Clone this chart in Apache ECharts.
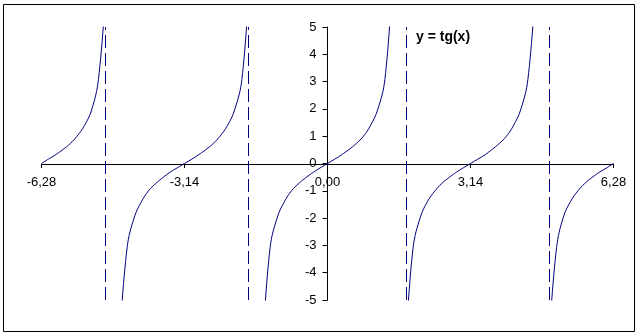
<!DOCTYPE html>
<html>
<head>
<meta charset="utf-8">
<script src="https://cdn.jsdelivr.net/npm/echarts@6/dist/echarts.min.js"></script>
<style>
html,body{margin:0;padding:0;background:#fff;}
#chart{width:639px;height:334px;}
</style>
</head>
<body>
<div id="chart"></div>
<script>
// x values (radians), step ~ pi/20, from -6.28 to 6.28
var xValues = [
  -6.28, -6.13, -5.97, -5.81, -5.65, -5.50, -5.34, -5.18, -5.03, -4.87,
  -4.71, -4.56, -4.40, -4.24, -4.08, -3.93, -3.77, -3.61, -3.46, -3.30,
  -3.14, -2.98, -2.83, -2.67, -2.51, -2.36, -2.20, -2.04, -1.88, -1.73,
  -1.57, -1.41, -1.26, -1.10, -0.94, -0.79, -0.63, -0.47, -0.31, -0.16,
   0.00,  0.16,  0.31,  0.47,  0.63,  0.79,  0.94,  1.10,  1.26,  1.41,
   1.57,  1.73,  1.88,  2.04,  2.20,  2.36,  2.51,  2.67,  2.83,  2.98,
   3.14,  3.30,  3.46,  3.61,  3.77,  3.93,  4.08,  4.24,  4.40,  4.56,
   4.71,  4.87,  5.03,  5.18,  5.34,  5.50,  5.65,  5.81,  5.97,  6.13,
   6.28
];
// y = tg(x) values (null = break at asymptote)
var yValues = [
   0.00,  0.16,  0.32,  0.51,  0.73,  1.00,  1.38,  1.96,  3.08,  6.31,
   null, -6.31, -3.08, -1.96, -1.38, -1.00, -0.73, -0.51, -0.32, -0.16,
   0.00,  0.16,  0.32,  0.51,  0.73,  1.00,  1.38,  1.96,  3.08,  6.31,
   null, -6.31, -3.08, -1.96, -1.38, -1.00, -0.73, -0.51, -0.32, -0.16,
   0.00,  0.16,  0.32,  0.51,  0.73,  1.00,  1.38,  1.96,  3.08,  6.31,
   null, -6.31, -3.08, -1.96, -1.38, -1.00, -0.73, -0.51, -0.32, -0.16,
   0.00,  0.16,  0.32,  0.51,  0.73,  1.00,  1.38,  1.96,  3.08,  6.31,
   null, -6.31, -3.08, -1.96, -1.38, -1.00, -0.73, -0.51, -0.32, -0.16,
   0.00
];
// dashed vertical asymptote markers (as drawn in the picture)
var asymptoteX = [-4.87, -1.73, 1.73, 4.87];
// axis ticks
var xTickValues = [-6.28, -3.14, 0.00, 3.14, 6.28];
var yTickValues = [-5, -4, -3, -2, -1, 0, 1, 2, 3, 4, 5];
var titleText = 'y = tg(x)';

var chart = echarts.init(document.getElementById('chart'), null, {renderer: 'canvas'});
var curve = xValues.map(function (x, i) { return [x, yValues[i]]; });
var font = '"Liberation Sans", Arial, sans-serif';

chart.setOption({
  animation: false,
  backgroundColor: '#ffffff',
  grid: {left: 41.5, right: 25.5, top: 27, bottom: 34, containLabel: false},
  xAxis: {
    type: 'value',
    position: 'bottom',
    offset: -136,
    min: xTickValues[0],
    max: xTickValues[xTickValues.length - 1],
    interval: 3.14,
    splitLine: {show: false},
    axisLine: {onZero: false, lineStyle: {color: '#000', width: 1}},
    axisTick: {show: true, inside: false, length: 4, lineStyle: {color: '#000'},
      customValues: xTickValues},
    axisLabel: {
      color: '#000', fontFamily: font, fontSize: 13, margin: 12, lineHeight: 13,
      customValues: xTickValues,
      formatter: function (v) { return v.toFixed(2).replace('.', ','); }
    }
  },
  yAxis: {
    type: 'value',
    position: 'left',
    offset: -286,
    min: -5, max: 5, interval: 1,
    splitLine: {show: false},
    axisLine: {onZero: false, lineStyle: {color: '#000', width: 1}},
    axisTick: {show: true, inside: false, length: 5, lineStyle: {color: '#000'}},
    axisLabel: {color: '#000', fontFamily: font, fontSize: 13, margin: 11,
      customValues: yTickValues}
  },
  graphic: [
    {type: 'rect', shape: {x: 3.5, y: 4.5, width: 631, height: 327},
      style: {fill: 'none', stroke: '#000', lineWidth: 1}, silent: true, z: 100},
    {type: 'text', left: 416, top: 30,
      style: {text: titleText, fill: '#000', font: 'bold 14px "Liberation Sans", Arial, sans-serif'}}
  ],
  series: [
    {
      type: 'line',
      data: curve,
      showSymbol: false,
      connectNulls: false,
      smooth: 0.4,
      clip: true,
      lineStyle: {color: '#000080', width: 1},
      markLine: {
        silent: true,
        symbol: ['none', 'none'],
        label: {show: false},
        lineStyle: {color: '#000080', width: 1, type: [13, 5]},
        data: asymptoteX.map(function (x) { return {xAxis: x}; })
      }
    }
  ]
});
</script>
</body>
</html>
